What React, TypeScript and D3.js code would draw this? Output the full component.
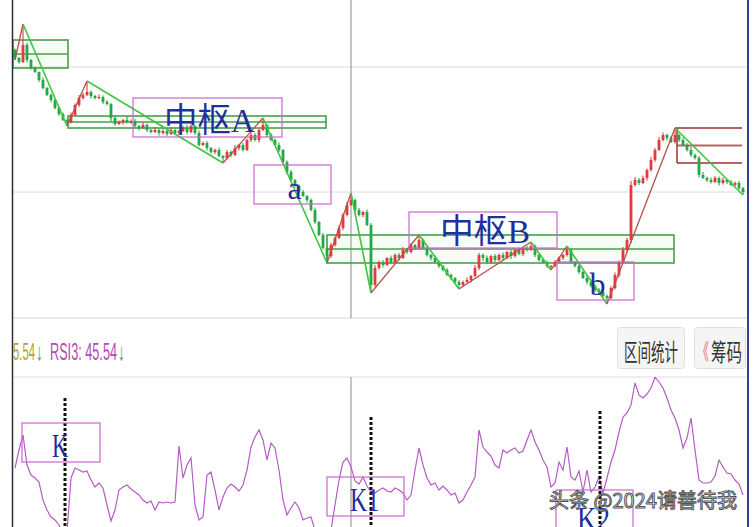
import React from "react";
import * as d3 from "d3";

// ---- daily price data (closes; each open is the prior close) ----
const firstOpen = 15.0;
const closes = [
  14.84, 14.76, 15.1, 14.8, 14.64, 14.56, 14.4, 14.24, 14.1, 14.0,
  13.84, 13.72, 13.6, 13.56, 13.7, 13.9, 14.04, 14.1, 14.16, 14.08,
  14.04, 14.06, 13.96, 13.92, 13.64, 13.52, 13.56, 13.6, 13.56, 13.58,
  13.48, 13.44, 13.5, 13.4, 13.36, 13.4, 13.34, 13.38, 13.32, 13.4,
  13.34, 13.38, 13.44, 13.36, 13.48, 13.34, 13.1, 13.14, 13.04, 12.96,
  13.0, 12.88, 12.84, 12.96, 12.9, 13.04, 13.1, 13.0, 13.2, 13.3,
  13.2, 13.4, 13.5, 13.3, 13.2, 13.1, 13.0, 12.76, 12.56, 12.4,
  12.28, 12.16, 12.08, 12.0, 11.8, 11.56, 11.3, 11.04, 10.88, 11.1,
  11.24, 11.44, 11.7, 11.9, 12.0, 11.8, 11.7, 11.76, 11.5, 10.3,
  10.64, 10.76, 10.7, 10.84, 10.76, 10.9, 10.84, 11.0, 10.96, 11.1,
  11.04, 11.2, 11.04, 10.9, 10.84, 10.76, 10.68, 10.6, 10.5, 10.44,
  10.36, 10.3, 10.36, 10.4, 10.48, 10.64, 10.9, 10.84, 10.76, 10.88,
  10.8, 10.9, 10.84, 10.96, 10.88, 11.0, 10.92, 11.04, 11.0, 11.08,
  10.9, 10.8, 10.76, 10.68, 10.68, 10.76, 10.84, 10.9, 11.0, 10.76,
  10.68, 10.56, 10.44, 10.36, 10.28, 10.2, 10.16, 10.08, 10.04, 10.24,
  10.5, 10.76, 11.0, 11.2, 12.3, 12.4, 12.34, 12.44, 12.6, 12.8,
  13.0, 13.2, 13.3, 13.24, 13.16, 13.3, 13.2, 13.1, 13.0, 12.9,
  12.84, 12.5, 12.44, 12.4, 12.36, 12.44, 12.34, 12.4, 12.36, 12.3,
  12.34, 12.24, 12.16,
];
// shadow lengths above / below the body, in cents
const upperWickCents = [
  3, 2, 42, 4, 2, 3, 1, 5, 2, 3,
  2, 4, 3, 2, 5, 3, 6, 4, 22, 3,
  2, 5, 3, 4, 2, 6, 3, 2, 8, 3,
  4, 2, 5, 3, 2, 6, 3, 4, 2, 5,
  3, 2, 4, 6, 3, 2, 5, 3, 4, 2,
  3, 5, 2, 4, 3, 6, 2, 4, 3, 5,
  4, 3, 14, 2, 4, 3, 5, 2, 3, 4,
  2, 3, 4, 2, 3, 5, 2, 4, 3, 4,
  3, 5, 4, 6, 14, 3, 4, 2, 5, 4,
  6, 3, 4, 2, 5, 3, 4, 6, 3, 4,
  2, 10, 3, 4, 2, 5, 3, 2, 4, 3,
  2, 4, 3, 5, 2, 6, 4, 3, 5, 2,
  4, 3, 5, 2, 4, 3, 5, 2, 4, 8,
  3, 2, 4, 3, 2, 4, 3, 2, 8, 3,
  2, 4, 3, 5, 2, 3, 4, 2, 3, 4,
  5, 3, 6, 4, 8, 6, 4, 5, 3, 6,
  4, 6, 5, 3, 4, 14, 3, 5, 4, 6,
  3, 4, 6, 3, 5, 4, 3, 5, 2, 4,
  3, 4, 2,
];
const lowerWickCents = [
  4, 3, 2, 5, 3, 2, 4, 3, 2, 5,
  3, 4, 2, 8, 3, 2, 4, 3, 2, 5,
  3, 2, 4, 3, 6, 3, 2, 5, 3, 4,
  3, 5, 2, 4, 3, 2, 5, 3, 4, 2,
  3, 4, 2, 5, 3, 4, 3, 2, 5, 3,
  4, 2, 10, 3, 4, 2, 5, 3, 2, 4,
  3, 5, 2, 4, 3, 2, 4, 3, 5, 2,
  3, 4, 2, 5, 3, 4, 2, 3, 14, 4,
  3, 2, 4, 3, 2, 5, 3, 4, 2, 16,
  4, 3, 5, 2, 4, 3, 5, 2, 4, 3,
  3, 2, 4, 3, 5, 2, 4, 3, 2, 4,
  3, 8, 4, 2, 5, 3, 4, 6, 3, 4,
  5, 3, 4, 2, 6, 3, 2, 4, 3, 2,
  4, 3, 2, 4, 8, 3, 2, 4, 3, 2,
  3, 4, 2, 5, 3, 4, 2, 3, 12, 4,
  3, 5, 2, 4, 6, 3, 4, 2, 5, 3,
  4, 2, 3, 5, 2, 3, 4, 2, 3, 4,
  3, 5, 2, 4, 3, 2, 5, 3, 4, 2,
  3, 4, 6,
];

// RSI(3) per bar
const rsi3 = [
  45, 54, 61.5, 46.5, 41.5, 40, 38, 29, 24, 20.5,
  19, 16.5, 11.5, 13, 40, 45, 44, 43, 43.5, 39,
  35.5, 37.5, 35, 26.5, 18.5, 24, 34, 35.5, 36.5, 34.5,
  33, 31.5, 29, 27.5, 28.5, 24, 28, 27.5, 28, 27.5,
  28, 56, 40, 46.5, 50, 26.5, 19, 20.5, 41.5, 43,
  34, 24, 30.5, 35, 37, 35.5, 33.5, 36.5, 44, 55.5,
  60.5, 64, 59, 49, 57.5, 55, 44, 29, 21.5, 25,
  28, 25, 19, 20, 20.5, 14, 8, 6.5, 7.5, 14,
  26.5, 39, 48, 50, 45.54, 38.5, 37, 40.5, 36, 33,
  32.5, 34, 35, 33.5, 33, 35, 34, 32.5, 29, 31.5,
  44, 55, 46.5, 40, 36.5, 37.5, 34, 36, 34, 31.5,
  32.5, 27.5, 29, 33, 36.5, 40.5, 64, 55.5, 53, 51,
  46.5, 45, 54, 52.5, 54, 55, 52.5, 53.5, 59, 64,
  58, 54, 49, 45.5, 35.5, 37.5, 48, 44, 55.5, 40.5,
  39, 43.5, 33, 44, 33, 35.5, 40.5, 32.5, 40, 48,
  54, 63, 70.5, 72.5, 76.5, 87.5, 81.5, 80, 82, 85,
  90.5, 88, 85, 80, 74, 70, 64, 55, 60, 70,
  54, 39, 37.5, 37.5, 38, 41, 49, 45.5, 42.5, 42,
  39, 37, 31.5,
];

// stroke turning points (bar index), alternating bottom / top, starting at a bottom
const pivotIndex = [0, 2, 13, 18, 52, 62, 78, 84, 89, 101, 111, 129, 134, 138, 148, 165, 182];

// pivot zones: [fromIndex, toIndex, low, high]
const hubBoxes: [number, number, number, number][] = [
  [-0.5, 13.25, 14.64, 15.2],
  [13.25, 77.75, 13.44, 13.68],
  [78, 164.75, 10.74, 11.3],
];
const upperZone: [number, number, number, number] = [165.5, 181.75, 12.74, 13.44];

// annotation frames on the price panel: [fromIndex, toIndex, low, high]
const priceFrames: [number, number, number, number][] = [
  [29.5, 66.75, 13.26, 14.04],
  [59.75, 79, 11.92, 12.7],
  [98.5, 135.5, 11.04, 11.76],
  [135.5, 154.75, 10.0, 10.76],
];
const priceFrameLabels = ["中枢A", "a", "中枢B", "b"];
const priceLabelLength = [91, 0, 90, 0];

// annotation frames on the RSI panel: [fromIndex, toIndex, low, high]
const rsiFrames: [number, number, number, number][] = [
  [1.75, 21.25, 48, 67.5],
  [78, 97.25, 21, 40.5],
  [135.25, 154.5, 11.5, 34],
];
const rsiFrameLabels = ["K", "K1", "K2"];
const rsiLabelLength = [16, 29, 33];

// dotted markers on the RSI panel: bar index and the RSI level where they start
const markerIndex = [12.5, 89, 146.25];
const markerTop = [80, 70.5, 73.5];

const gridPrices = [14.66, 12.16];
const cursorIndex = 84;

const W = 753;
const H = 527;
const LEFT = 12.5;
const RIGHT = 748;
const MAIN_BOTTOM = 318;
const RSI_TOP = 377;
const RSI_BOTTOM = 527;

const RED = "#e23b3b";
const GREEN = "#22a845";
const UP_STROKE = "#b65048";
const DOWN_STROKE = "#3fc53f";
const HUB = "#4a9e4a";
const FRAME = "#cc66cc";
const LABEL = "#1f2f9e";
const LABEL_FONT = "'Liberation Serif', 'Noto Sans CJK SC', serif";
const UI_FONT = "'Noto Sans CJK SC', 'Liberation Sans', sans-serif";

export default function App() {
  const n = closes.length;
  const opens = closes.map((c, i) => (i === 0 ? firstOpen : closes[i - 1]));
  const highs = closes.map((c, i) => Math.max(opens[i], c) + upperWickCents[i] / 100);
  const lows = closes.map((c, i) => Math.min(opens[i], c) - lowerWickCents[i] / 100);

  const x = d3.scaleLinear().domain([0, n - 1]).range([15, 743]);
  const y = d3.scaleLinear().domain([9.64, 16]).range([MAIN_BOTTOM, 0]);
  const ry = d3.scaleLinear().domain([0, 100]).range([558, 358]);

  const rsiPath = d3
    .line<number>()
    .x((_, i) => x(i))
    .y((d) => ry(d))(rsi3) as string;

  const pivots = pivotIndex.map((idx, k) => ({
    idx,
    price: k % 2 === 1 ? highs[idx] : lows[idx],
  }));

  return (
    <svg
      width={W}
      height={H}
      style={{ position: "absolute", left: 0, top: 0, background: "#fff" }}
    >
      <defs>
        <clipPath id="mainClip">
          <rect x={LEFT} y={0} width={RIGHT - LEFT} height={MAIN_BOTTOM} />
        </clipPath>
        <clipPath id="rsiClip">
          <rect x={LEFT} y={RSI_TOP} width={RIGHT - LEFT} height={RSI_BOTTOM - RSI_TOP} />
        </clipPath>
      </defs>
      <rect x={0} y={0} width={W} height={H} fill="#fff" />

      {/* grid and panel separators */}
      {gridPrices.map((p) => (
        <line key={p} x1={LEFT} x2={RIGHT} y1={y(p)} y2={y(p)} stroke="#dcdcdc" strokeWidth={1} />
      ))}
      <line x1={LEFT} x2={RIGHT} y1={MAIN_BOTTOM} y2={MAIN_BOTTOM} stroke="#d4d4d4" strokeWidth={1} />
      <line x1={LEFT} x2={RIGHT} y1={RSI_TOP} y2={RSI_TOP} stroke="#dcdcdc" strokeWidth={1} />

      {/* cursor line */}
      <line x1={x(cursorIndex)} x2={x(cursorIndex)} y1={0} y2={MAIN_BOTTOM} stroke="#8a8a8a" strokeWidth={1} />
      <line x1={x(cursorIndex)} x2={x(cursorIndex)} y1={RSI_TOP} y2={RSI_BOTTOM} stroke="#8a8a8a" strokeWidth={1} />

      <g clipPath="url(#mainClip)">
        {/* pivot zones */}
        {hubBoxes.map(([a, b, lo, hi], k) => (
          <g key={"hub" + k}>
            <rect
              x={x(a)}
              y={y(hi)}
              width={x(b) - x(a)}
              height={y(lo) - y(hi)}
              fill="rgba(110,200,110,0.06)"
              stroke={HUB}
              strokeWidth={1.6}
            />
            <line
              x1={x(a)}
              x2={x(b)}
              y1={y((lo + hi) / 2)}
              y2={y((lo + hi) / 2)}
              stroke={HUB}
              strokeWidth={1.6}
            />
          </g>
        ))}
        <g stroke="#a84848" strokeWidth={2} strokeOpacity={0.85}>
          <line x1={x(upperZone[0]) - 2} x2={x(upperZone[1])} y1={y(upperZone[3])} y2={y(upperZone[3])} />
          <line
            x1={x(upperZone[0])}
            x2={x(upperZone[1])}
            y1={y((upperZone[2] + upperZone[3]) / 2)}
            y2={y((upperZone[2] + upperZone[3]) / 2)}
          />
          <line x1={x(upperZone[0])} x2={x(upperZone[1])} y1={y(upperZone[2])} y2={y(upperZone[2])} />
          <line x1={x(upperZone[0])} x2={x(upperZone[0])} y1={y(upperZone[3])} y2={y(upperZone[2])} />
        </g>

        {/* candlesticks */}
        {closes.map((c, i) => {
          const o = opens[i];
          const col = c >= o ? RED : GREEN;
          const cx = x(i);
          const top = y(Math.max(o, c));
          const bottom = y(Math.min(o, c));
          return (
            <g key={"k" + i}>
              <line x1={cx} x2={cx} y1={y(highs[i])} y2={y(lows[i])} stroke={col} strokeWidth={1.1} />
              <rect x={cx - 1.4} width={2.8} y={top} height={Math.max(1.2, bottom - top)} fill={col} />
            </g>
          );
        })}

        {/* strokes between turning points */}
        {pivots.slice(1).map((p, k) => {
          const s = pivots[k];
          const rising = k % 2 === 0;
          return (
            <line
              key={"bi" + k}
              x1={x(s.idx)}
              y1={y(s.price)}
              x2={x(p.idx)}
              y2={y(p.price)}
              stroke={rising ? UP_STROKE : DOWN_STROKE}
              strokeWidth={rising ? 1.3 : 1.6}
            />
          );
        })}

        {/* annotation frames */}
        {priceFrames.map(([a, b, lo, hi], k) => (
          <g key={"pf" + k}>
            <rect
              x={x(a)}
              y={y(hi)}
              width={x(b) - x(a)}
              height={y(lo) - y(hi)}
              fill="none"
              stroke={FRAME}
              strokeWidth={1.2}
            />
            <text
              x={(x(a) + x(b)) / 2 + 2}
              y={y(lo) - 5}
              textAnchor="middle"
              fontFamily={LABEL_FONT}
              fontSize={priceLabelLength[k] ? 34 : 32}
              fill={LABEL}
              {...(priceLabelLength[k]
                ? { textLength: priceLabelLength[k], lengthAdjust: "spacingAndGlyphs" }
                : {})}
            >
              {priceFrameLabels[k]}
            </text>
          </g>
        ))}
      </g>

      {/* indicator caption */}
      <g fontFamily="'Liberation Sans', sans-serif" fontSize={24}>
        <text x={13} y={360} fill="#b5a52c" textLength={22} lengthAdjust="spacingAndGlyphs">
          5.54
        </text>
        <text x={36} y={360} fill="#3f9b6e" textLength={7} lengthAdjust="spacingAndGlyphs">
          ↓
        </text>
        <text x={50} y={360} fill="#b24ab4" textLength={67} lengthAdjust="spacingAndGlyphs">
          RSI3: 45.54
        </text>
        <text x={118} y={360} fill="#3f9b6e" textLength={7} lengthAdjust="spacingAndGlyphs">
          ↓
        </text>
      </g>

      {/* toolbar buttons */}
      <rect x={617.5} y={327.5} width={67} height={41} rx={3} fill="#f5f5f5" stroke="#e0e0e0" />
      <text
        x={651}
        y={361}
        textAnchor="middle"
        fontFamily={UI_FONT}
        fontSize={24}
        fill="#333"
        textLength={54}
        lengthAdjust="spacingAndGlyphs"
      >
        区间统计
      </text>
      <rect x={694.5} y={327.5} width={51} height={41} rx={3} fill="#f5f5f5" stroke="#e0e0e0" />
      <text x={697} y={359} fontFamily={UI_FONT} fontSize={22} fill="#e07070" textLength={12} lengthAdjust="spacingAndGlyphs">
        《
      </text>
      <text x={711} y={361} fontFamily={UI_FONT} fontSize={24} fill="#333" textLength={31} lengthAdjust="spacingAndGlyphs">
        筹码
      </text>

      {/* RSI panel */}
      <g clipPath="url(#rsiClip)">
        <path d={rsiPath} fill="none" stroke="#b45cc4" strokeWidth={1.2} />
        {markerIndex.map((m, k) => (
          <line
            key={"mk" + k}
            x1={x(m)}
            x2={x(m)}
            y1={ry(markerTop[k])}
            y2={RSI_BOTTOM}
            stroke="#111"
            strokeWidth={3}
            strokeDasharray="3 2"
          />
        ))}
        {rsiFrames.map(([a, b, lo, hi], k) => (
          <g key={"rf" + k}>
            <rect
              x={x(a)}
              y={ry(hi)}
              width={x(b) - x(a)}
              height={ry(lo) - ry(hi)}
              fill="none"
              stroke={FRAME}
              strokeWidth={1.2}
            />
            <text
              x={(x(a) + x(b)) / 2 - 1}
              y={ry(lo) - 5}
              textAnchor="middle"
              fontFamily={LABEL_FONT}
              fontSize={34}
              fill={LABEL}
              textLength={rsiLabelLength[k]}
              lengthAdjust="spacingAndGlyphs"
            >
              {rsiFrameLabels[k]}
            </text>
          </g>
        ))}
      </g>

      {/* panel borders */}
      <line x1={LEFT} x2={LEFT} y1={0} y2={H} stroke="#2c2c3c" strokeWidth={1.5} />
      <line x1={RIGHT} x2={RIGHT} y1={0} y2={H} stroke="#3b3f8f" strokeWidth={2} />

      {/* watermark */}
      <text
        x={549}
        y={508}
        fontFamily={UI_FONT}
        fontSize={20}
        fill="#fff"
        stroke="#555"
        strokeWidth={1}
        textLength={188}
        lengthAdjust="spacingAndGlyphs"
      >
        头条 @2024请善待我
      </text>
    </svg>
  );
}
